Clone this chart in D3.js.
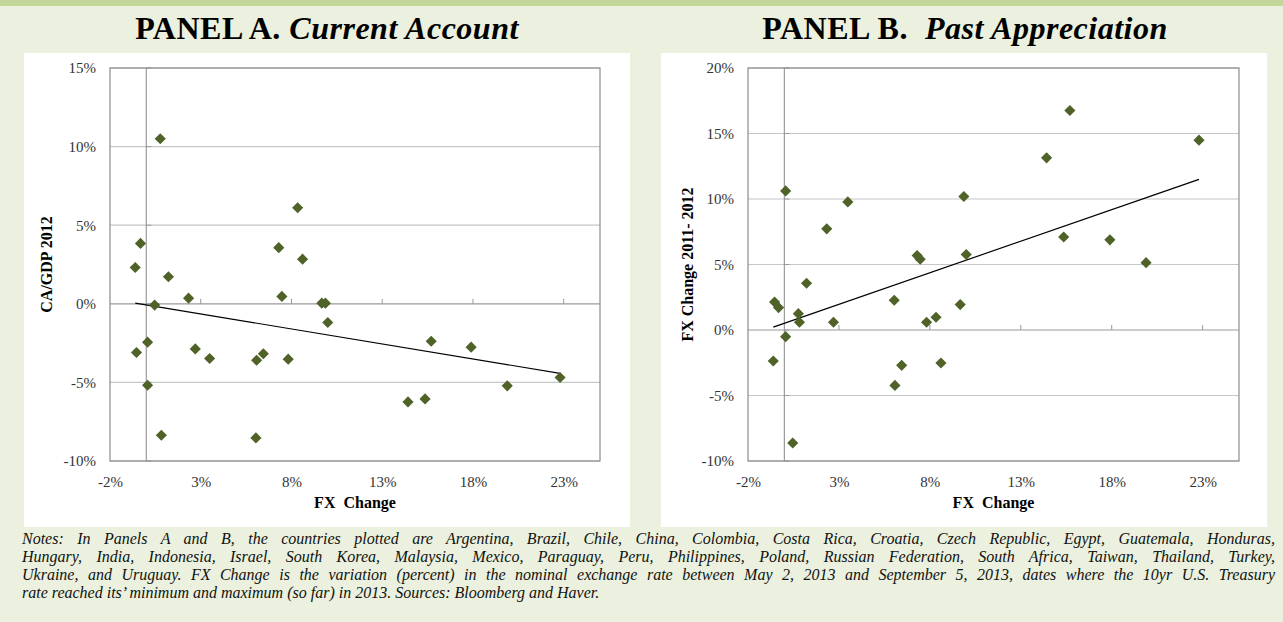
<!DOCTYPE html>
<html>
<head>
<meta charset="utf-8">
<title>FX Change vs Current Account and Past Appreciation</title>
<script src="https://cdn.jsdelivr.net/npm/d3@7"></script>
<style>
  body { margin: 0; background: #EBF1DE; }
  svg { display: block; }
</style>
</head>
<body>
<script>

//****************************************************************************************************************************//
// Data (percent)

// FX change May 2 - Sep 5 2013, one value per country
var fxChange = [0.77, -0.32, -0.61, 1.22, 2.33, 0.46, -0.54, 0.07, 0.07, 0.83,
                2.70, 3.49, 6.08, 6.45, 6.04, 7.30, 7.47, 8.34, 8.61, 7.82,
                9.67, 9.87, 10.00, 14.42, 15.36, 15.70, 17.90, 19.89, 22.80];

// Panel A: current account / GDP 2012
var caGdp = [10.50, 3.84, 2.31, 1.72, 0.36, -0.08, -3.10, -2.44, -5.18, -8.36,
             -2.87, -3.48, -3.59, -3.18, -8.53, 3.57, 0.47, 6.11, 2.84, -3.52,
             0.04, 0.04, -1.19, -6.24, -6.05, -2.38, -2.76, -5.22, -4.69];

// Panel B: FX change 2011-2012
var pastFx = [1.25, 1.71, -2.37, 3.57, 7.72, -8.63, 2.14, 10.62, -0.51, 0.59,
              0.59, 9.78, -4.23, -2.70, 2.27, 5.68, 5.40, 0.97, -2.52, 0.59,
              1.94, 10.19, 5.76, 13.14, 7.10, 16.76, 6.88, 5.14, 14.49];

var xTicks = [-2, 3, 8, 13, 18, 23];
var yTicksA = [-10, -5, 0, 5, 10, 15];
var yTicksB = [-10, -5, 0, 5, 10, 15, 20];

var notes = [
  "Notes: In Panels A and B, the countries plotted are Argentina, Brazil, Chile, China, Colombia, Costa Rica, Croatia, Czech Republic, Egypt, Guatemala, Honduras,",
  "Hungary, India, Indonesia, Israel, South Korea, Malaysia, Mexico, Paraguay, Peru, Philippines, Poland, Russian Federation, South Africa, Taiwan, Thailand, Turkey,",
  "Ukraine, and Uruguay. FX Change is the variation (percent) in the nominal exchange rate between May 2, 2013 and September 5, 2013, dates where the 10yr U.S. Treasury",
  "rate reached its\u2019 minimum and maximum (so far) in 2013. Sources: Bloomberg and Haver."
];

//****************************************************************************************************************************//
// Canvas

var width = 1283,
    height = 622;

var serif = "'Liberation Serif'";
var markerColor = "#4F6228";

var canvas = d3.select("body")
            .append("svg")
            .attr("width", width)
            .attr("height", height);

canvas.append("rect")
        .attr("width", width)
        .attr("height", height)
        .attr("fill", "#EBF1DE");

canvas.append("rect")
        .attr("width", width)
        .attr("height", 6)
        .attr("fill", "#C4D79B");

//****************************************************************************************************************************//
// Panels

createPanel({
    boxX: 24, titleLead: "PANEL A. ", titleItalic: "Current Account", titleX: 327,
    left: 110, right: 600, top: 68, bottom: 461,
    yDomain: [-10, 15], yTicks: yTicksA, yValues: caGdp,
    yTitle: "CA/GDP 2012", yTitleX: 52
});

createPanel({
    boxX: 661, titleLead: "PANEL B.\u00a0 ", titleItalic: "Past Appreciation", titleX: 965,
    left: 748, right: 1239, top: 68, bottom: 461,
    yDomain: [-10, 20], yTicks: yTicksB, yValues: pastFx,
    yTitle: "FX Change 2011- 2012", yTitleX: 693
});

createNotes();

//****************************************************************************************************************************//
// Panel drawing

function setFont(sel, size, weight, style){
    return sel.style("font-family", serif)
              .style("font-size", size + "px")
              .style("font-weight", weight || "normal")
              .style("font-style", style || "normal");
}

function createPanel(p){
    canvas.append("rect")
        .attr("x", p.boxX)
        .attr("y", 53)
        .attr("width", 606)
        .attr("height", 474)
        .attr("fill", "white");

    var title = canvas.append("text")
        .attr("x", p.titleX)
        .attr("y", 39)
        .attr("text-anchor", "middle")
        .attr("fill", "black")
        .style("letter-spacing", "0.5px");
    setFont(title, 32, "bold");
    title.append("tspan").text(p.titleLead);
    title.append("tspan").style("font-style", "italic").text(p.titleItalic);

    var x = d3.scaleLinear().domain([-2, 25]).range([p.left, p.right]);
    var y = d3.scaleLinear().domain(p.yDomain).range([p.bottom, p.top]);

    var g = canvas.append("g");

    // gridlines
    g.selectAll(".grid")
        .data(p.yTicks)
        .enter().append("line")
        .attr("x1", p.left).attr("x2", p.right)
        .attr("y1", function(d){ return y(d); })
        .attr("y2", function(d){ return y(d); })
        .attr("stroke", function(d){ return d == 0 ? "#9a9a9a" : "#c6c6c6"; })
        .attr("stroke-width", 1.2);

    // vertical axis at x = 0
    g.append("line")
        .attr("x1", x(0)).attr("x2", x(0))
        .attr("y1", p.top).attr("y2", p.bottom)
        .attr("stroke", "#9a9a9a")
        .attr("stroke-width", 1.2);

    g.selectAll(".ytick")
        .data(p.yTicks)
        .enter().append("line")
        .attr("x1", x(0)).attr("x2", x(0) + 5)
        .attr("y1", function(d){ return y(d); })
        .attr("y2", function(d){ return y(d); })
        .attr("stroke", "#9a9a9a");

    // x tick marks on the zero line
    g.selectAll(".xtick")
        .data(xTicks.slice(1))
        .enter().append("line")
        .attr("x1", function(d){ return x(d); })
        .attr("x2", function(d){ return x(d); })
        .attr("y1", y(0)).attr("y2", y(0) - 5)
        .attr("stroke", "#9a9a9a");

    // plot border
    g.append("rect")
        .attr("x", p.left).attr("y", p.top)
        .attr("width", p.right - p.left)
        .attr("height", p.bottom - p.top)
        .attr("fill", "none")
        .attr("stroke", "#8c8c8c")
        .attr("stroke-width", 1.2);

    // axis labels
    var yAxis = g.append("g")
        .attr("transform", "translate(" + p.left + ",0)")
        .call(d3.axisLeft(y).tickValues(p.yTicks).tickSize(0).tickPadding(14)
            .tickFormat(function(d){ return d + "%"; }));

    var xAxis = g.append("g")
        .attr("transform", "translate(0," + p.bottom + ")")
        .call(d3.axisBottom(x).tickValues(xTicks).tickSize(0).tickPadding(15)
            .tickFormat(function(d){ return d + "%"; }));

    [xAxis, yAxis].forEach(function(a){
        a.attr("font-family", null).attr("font-size", null);
        a.select(".domain").remove();
        setFont(a.selectAll("text"), 15).attr("fill", "#333");
    });

    // trendline (least squares through the points)
    var pts = fxChange.map(function(v, i){ return [v, p.yValues[i]]; });
    var mx = d3.mean(pts, function(d){ return d[0]; }),
        my = d3.mean(pts, function(d){ return d[1]; });
    var sxy = d3.sum(pts, function(d){ return (d[0] - mx) * (d[1] - my); }),
        sxx = d3.sum(pts, function(d){ return (d[0] - mx) * (d[0] - mx); });
    var slope = sxy / sxx,
        icept = my - slope * mx;
    var ext = d3.extent(fxChange);

    g.append("path")
        .attr("d", d3.line()([[x(ext[0]), y(icept + slope * ext[0])], [x(ext[1]), y(icept + slope * ext[1])]]))
        .attr("stroke", "black")
        .attr("stroke-width", 1.2)
        .attr("fill", "none");

    // markers
    g.selectAll(".pt")
        .data(pts)
        .enter().append("path")
        .attr("d", d3.symbol(d3.symbolSquare, 62))
        .attr("transform", function(d){ return "translate(" + x(d[0]) + "," + y(d[1]) + ") rotate(45)"; })
        .attr("fill", markerColor);

    // axis titles
    var xt = canvas.append("text")
        .attr("x", (p.left + p.right) / 2)
        .attr("y", 508)
        .attr("text-anchor", "middle")
        .style("white-space", "pre")
        .text("FX  Change");
    setFont(xt, 16, "bold");

    var yt = canvas.append("text")
        .attr("transform", "translate(" + p.yTitleX + "," + ((p.top + p.bottom) / 2) + ") rotate(-90)")
        .attr("text-anchor", "middle")
        .text(p.yTitle);
    setFont(yt, 16, "bold");
}

//****************************************************************************************************************************//
// Notes, justified to the page width

function createNotes(){
    var x0 = 22, x1 = 1275;
    notes.forEach(function(line, i){
        var t = canvas.append("text")
            .attr("x", x0)
            .attr("y", 544 + i * 18)
            .attr("fill", "#111")
            .text(line);
        setFont(t, 16, "normal", "italic");

        if(i < notes.length - 1){
            var natural = t.node().getComputedTextLength();
            var spaces = line.split(" ").length - 1;
            t.style("word-spacing", ((x1 - x0 - natural) / spaces) + "px");
        }
    });
}

</script>
</body>
</html>
